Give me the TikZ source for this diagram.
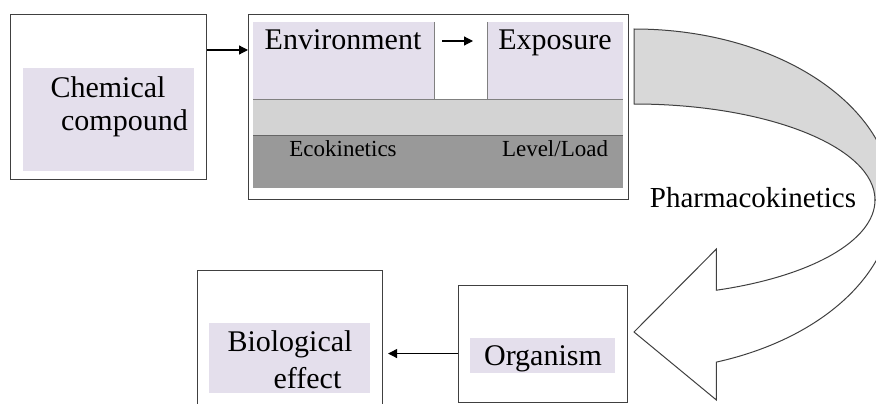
\documentclass[tikz,border=0pt]{standalone}
\usepackage{fontspec}
\setmainfont{Liberation Serif}
\usetikzlibrary{arrows.meta}
\definecolor{lav}{HTML}{E4DFEC}
\definecolor{lgray}{HTML}{D3D3D3}
\definecolor{dgray}{HTML}{999999}
\definecolor{rgray}{HTML}{D8D8D8}
\definecolor{edge}{HTML}{404040}
\tikzset{
  box/.style={draw=edge, line width=1.1pt, fill=white, inner sep=0pt, anchor=north west},
  band/.style={inner sep=0pt, anchor=north west},
  big/.style={font=\fontsize{30}{32}\selectfont, inner sep=0pt, anchor=base},
  small/.style={font=\fontsize{23}{25}\selectfont, inner sep=0pt, anchor=base},
  arr/.style={-{Triangle[length=9pt,width=9pt]}, line width=1.2pt, black},
}
\begin{document}
\begin{tikzpicture}[x=1pt,y=-1pt]
\useasboundingbox (0,0) rectangle (876,404);
\clip (0,0) rectangle (876,404);
% chemical compound
\node[box, minimum width=196, minimum height=165] (chem) at (10,14) {};
\node[band, fill=lav, minimum width=171, minimum height=103] (chemin) at (23,68) {};
\node[big] (t1) at (108,97) {Chemical};
\node[big] (t2) at (124.5,130) {compound};
% middle box
\node[box, minimum width=380, minimum height=185] (mid) at (248,14) {};
\node[band, fill=lav, minimum width=181, minimum height=77] (env) at (253,22) {};
\node[band, fill=lav, minimum width=136, minimum height=77] (exp) at (487,22) {};
\node[band, fill=lgray, minimum width=370, minimum height=36] (lband) at (253,99) {};
\node[band, fill=dgray, minimum width=370, minimum height=53] (dband) at (253,135) {};
\draw[draw=gray, line width=0.9pt] (env.north east) -- (env.south east);
\draw[draw=gray, line width=0.9pt] (exp.north west) -- (exp.south west);
\draw[draw=gray, line width=0.9pt] (lband.north west) -- (lband.north east);
\draw[draw=gray!80!black, line width=0.9pt] (dband.north west) -- (dband.north east);
\node[big] (tenv) at (343,50) {Environment};
\node[big] (texp) at (555,50) {Exposure};
\node[small] (teco) at (343,156) {Ecokinetics};
\node[small] (tlev) at (555,156) {Level/Load};
\draw[arr, shorten <=8pt, shorten >=14pt] ([yshift=-19pt]env.north east) -- ([yshift=-19pt]exp.north west);
\draw[arr] ([yshift=-36pt]chem.north east) -- ([yshift=-36pt]mid.north west);
% curved arrow
\draw[edge, line width=1pt, fill=rgray] (634,29) arc[start angle=-90, end angle=0, x radius=259, y radius=171]
  -- (875,200) arc[start angle=0, end angle=-90, x radius=241, y radius=96] -- cycle;
\draw[edge, line width=1pt, fill=white] (875,200) arc[start angle=0, end angle=70, x radius=241, y radius=96]
  -- (716.4,249) -- (634,332) -- (716.4,400) -- (716.4,362.1)
  arc[start angle=71.45, end angle=0, x radius=259, y radius=171] -- cycle;
\node[font=\fontsize{29}{31}\selectfont, inner sep=0pt, anchor=base] (pk) at (753,207) {Pharmacokinetics};
% organism
\node[box, minimum width=169, minimum height=117] (org) at (458,285) {};
\node[band, fill=lav, minimum width=145, minimum height=35] (orgin) at (470,338) {};
\node[big] (torg) at (543,365) {Organism};
% biological effect
\node[box, minimum width=185, minimum height=140] (bio) at (197,270) {};
\node[band, fill=lav, minimum width=161, minimum height=70] (bioin) at (209,323) {};
\node[big] (tb1) at (290,351) {Biological};
\node[big] (tb2) at (307.5,388) {effect};
\draw[arr, shorten >=5pt] ([yshift=-9.5pt]org.west) -- ([yshift=-9.5pt]org.west -| bio.east);
\end{tikzpicture}
\end{document}
